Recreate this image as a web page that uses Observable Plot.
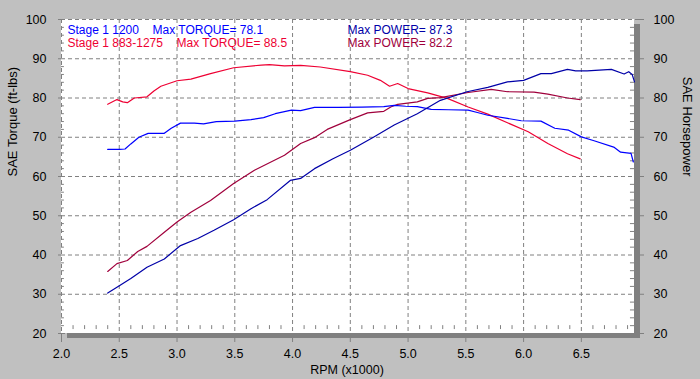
<!DOCTYPE html>
<html><head><meta charset="utf-8">
<script src="https://cdn.jsdelivr.net/npm/d3@7"></script>
<script src="https://cdn.jsdelivr.net/npm/@observablehq/plot@0.6"></script>
<style>
html,body{margin:0;padding:0;background:#c0c0c0;overflow:hidden;}
svg{display:block;background:#c0c0c0;font-family:'Liberation Sans',Arial,sans-serif;font-size:12.5px;}
</style></head><body><div id="chart"></div>
<script>
// Stage 1 1200 — torque
const rpmTorque1200 = [2.40,2.50,2.55,2.60,2.67,2.75,2.89,2.95,3.03,3.15,3.23,3.34,3.50,3.64,3.75,3.85,3.99,4.07,4.19,4.40,4.60,4.79,4.88,4.98,5.08,5.20,5.35,5.52,5.60,5.69,5.86,5.98,6.15,6.27,6.39,6.50,6.61,6.78,6.84,6.93,6.95];
const torque1200 = [66.9,66.9,67.0,68.3,70.0,71.0,71.0,72.3,73.6,73.6,73.4,74.0,74.1,74.5,75.0,76.0,76.9,76.8,77.6,77.6,77.7,77.8,78.1,77.9,77.8,77.1,77.0,76.9,76.3,75.6,74.8,74.2,74.1,72.3,71.8,70.1,69.1,67.5,66.2,65.9,63.7];
// Stage 1 1200 — power
const rpmPower1200 = [2.40,2.48,2.60,2.74,2.89,3.03,3.18,3.32,3.49,3.64,3.78,3.98,4.07,4.19,4.35,4.50,4.70,4.88,5.08,5.28,5.51,5.69,5.86,6.00,6.15,6.24,6.38,6.45,6.55,6.76,6.87,6.91,6.94,6.96];
const power1200 = [30.3,31.8,34.0,36.9,39.0,42.4,44.2,46.3,49.0,51.8,54.1,59.0,59.5,62.0,64.5,66.7,70.0,73.1,76.0,79.4,81.6,82.7,84.1,84.5,86.2,86.2,87.3,86.9,86.9,87.3,86.1,86.7,86.0,84.1];
// Stage 1 883-1275 — torque
const rpmTorque883 = [2.40,2.48,2.53,2.57,2.63,2.74,2.80,2.86,3.00,3.12,3.29,3.49,3.73,3.80,3.93,4.07,4.24,4.50,4.65,4.76,4.84,4.91,5.00,5.17,5.34,5.52,5.69,5.86,6.04,6.21,6.38,6.49];
const torque883 = [78.4,79.6,79.0,78.8,80.0,80.3,81.8,83.0,84.4,84.8,86.2,87.7,88.4,88.5,88.2,88.3,87.9,86.7,85.8,84.5,83.0,83.7,82.4,81.3,79.9,77.7,75.9,73.7,71.4,68.4,65.8,64.5];
// Stage 1 883-1275 — power
const rpmPower883 = [2.40,2.48,2.57,2.66,2.74,2.89,3.00,3.12,3.29,3.49,3.67,3.93,4.07,4.19,4.30,4.50,4.65,4.79,4.85,4.91,5.08,5.17,5.28,5.52,5.72,5.86,6.09,6.21,6.38,6.49];
const power883 = [35.8,37.8,38.6,40.9,42.2,45.8,48.4,50.9,53.9,58.2,61.6,65.4,68.4,69.9,72.0,74.5,76.2,76.6,77.7,78.4,79.0,79.9,80.1,81.4,82.2,81.6,81.5,81.0,80.0,79.6];

const xTicks = [2.0,2.5,3.0,3.5,4.0,4.5,5.0,5.5,6.0,6.5];
const yTicks = [20,30,40,50,60,70,80,90,100];
const xMinor = [2.1,2.2,2.3,2.4,2.6,2.7,2.8,2.9,3.1,3.2,3.3,3.4,3.6,3.7,3.8,3.9,4.1,4.2,4.3,4.4,4.6,4.7,4.8,4.9,5.1,5.2,5.3,5.4,5.6,5.7,5.8,5.9,6.1,6.2,6.3,6.4,6.6,6.7,6.8,6.9];
const yMinor = [22,24,26,28,32,34,36,38,42,44,46,48,52,54,56,58,62,64,66,68,72,74,76,78,82,84,86,88,92,94,96,98];

const legendLine1 = ["Stage 1 1200", "Max TORQUE= 78.1", "Max POWER= 87.3"];
const legendLine2 = ["Stage 1 883-1275", "Max TORQUE= 88.5", "Max POWER= 82.2"];
const axisTitles = {left: "SAE Torque (ft-lbs)", right: "SAE Horsepower", bottom: "RPM (x1000)"};

const blueT = "#0000ff", blueP = "#0000a8", redT = "#ee0033", redP = "#a0003c";
const gridColor = "#808080";
const rows = (xs, ys) => xs.map((x, i) => ({rpm: x, v: ys[i]}));

const dom = [20, 100], xdom = [2, 6.96];

// dashed grid drawn as short rule segments (4px dash, 3px gap)
const yUnitsPerPx = (dom[1] - dom[0]) / 314, xUnitsPerPx = (xdom[1] - xdom[0]) / 573;
const gridDashX = xTicks.flatMap(x => d3.range(dom[1], dom[0], -7 * yUnitsPerPx)
  .map(y => ({x, y1: y, y2: Math.max(y - 4 * yUnitsPerPx, dom[0])})));
const gridDashY = yTicks.flatMap(y => d3.range(xdom[0], xdom[1], 7 * xUnitsPerPx)
  .map(x => ({y, x1: x, x2: Math.min(x + 4 * xUnitsPerPx, xdom[1])})));

const chart = Plot.plot({
  width: 700, height: 379,
  marginLeft: 61, marginRight: 66, marginTop: 19, marginBottom: 46,
  x: {domain: xdom},
  y: {domain: dom},
  marks: [
    Plot.rect([0], {x1: xdom[0], x2: xdom[1], y1: dom[0], y2: dom[1], fill: "#808080",
      insetLeft: 6, insetRight: -6, insetTop: 5, insetBottom: -5}),
    Plot.rect([0], {x1: xdom[0], x2: xdom[1], y1: dom[0], y2: dom[1], fill: "white"}),
    Plot.ruleX(gridDashX, {x: "x", y1: "y1", y2: "y2", stroke: gridColor, strokeWidth: 1}),
    Plot.ruleY(gridDashY, {y: "y", x1: "x1", x2: "x2", stroke: gridColor, strokeWidth: 1}),
    Plot.ruleX(xMinor, {y1: 21, y2: 22, stroke: "#808080"}),
    Plot.ruleY(yMinor, {x1: 2, x2: 2.025, stroke: "#808080"}),
    Plot.ruleY(yMinor, {x1: 6.925, x2: 6.96, stroke: "#808080"}),
    Plot.line(rows(rpmTorque883, torque883), {x: "rpm", y: "v", stroke: redT, strokeWidth: 1.2}),
    Plot.line(rows(rpmPower883, power883), {x: "rpm", y: "v", stroke: redP, strokeWidth: 1.2}),
    Plot.line(rows(rpmTorque1200, torque1200), {x: "rpm", y: "v", stroke: blueT, strokeWidth: 1.2}),
    Plot.line(rows(rpmPower1200, power1200), {x: "rpm", y: "v", stroke: blueP, strokeWidth: 1.2}),
    Plot.text([legendLine1[0]], {frameAnchor: "top-left", dx: 6, dy: 6, text: d => d, fill: blueT, textAnchor: "start", fontSize: 12}),
    Plot.text([legendLine1[1]], {frameAnchor: "top-left", dx: 91, dy: 6, text: d => d, fill: blueT, textAnchor: "start", fontSize: 12}),
    Plot.text([legendLine1[2]], {frameAnchor: "top-left", dx: 286, dy: 6, text: d => d, fill: blueP, textAnchor: "start", fontSize: 12}),
    Plot.text([legendLine2[0]], {frameAnchor: "top-left", dx: 6, dy: 19, text: d => d, fill: redT, textAnchor: "start", fontSize: 12}),
    Plot.text([legendLine2[1]], {frameAnchor: "top-left", dx: 115, dy: 19, text: d => d, fill: redT, textAnchor: "start", fontSize: 12}),
    Plot.text([legendLine2[2]], {frameAnchor: "top-left", dx: 286, dy: 19, text: d => d, fill: redP, textAnchor: "start", fontSize: 12}),
    Plot.axisY(yTicks, {anchor: "left", tickSize: 3, tickPadding: 12, stroke: "#808080", fill: "black", label: null}),
    Plot.axisY(yTicks, {anchor: "right", tickSize: 9, tickPadding: 10, stroke: "#808080", fill: "black", label: null}),
    Plot.axisX(xTicks, {anchor: "bottom", tickSize: 9, tickPadding: 7, tickFormat: d => d.toFixed(1), stroke: "#808080", fill: "black", label: null}),
    Plot.text([axisTitles.left], {frameAnchor: "left", dx: -49, rotate: -90, text: d => d, fill: "black", fontSize: 13}),
    Plot.text([axisTitles.right], {frameAnchor: "right", dx: 53, rotate: 90, text: d => d, fill: "black", fontSize: 13}),
    Plot.text([axisTitles.bottom], {frameAnchor: "bottom", dx: -1, dy: 40, text: d => d, fill: "black", fontSize: 12.5})
  ]
});
document.getElementById("chart").append(chart);
</script>
</body></html>
